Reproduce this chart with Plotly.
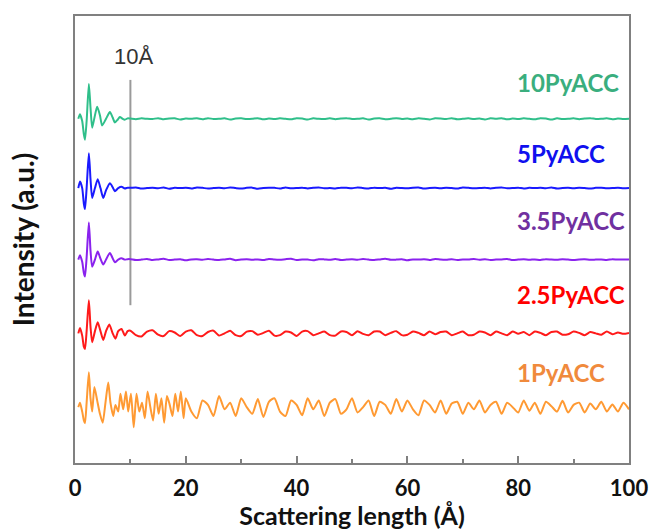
import numpy as np
import plotly.graph_objects as go

# ---------------- data ----------------
series_names = ["1PyACC", "2.5PyACC", "3.5PyACC", "5PyACC", "10PyACC"]
offsets = [1.25, 2.9, 4.55, 6.15, 7.7]
label_y = [2.02, 3.76, 5.43, 6.92, 8.52]
line_colors = ["#ff9a33", "#ff1a1a", "#8a22ee", "#1a1aff", "#2fbf8a"]
label_colors = ["#f08a3c", "#ff0000", "#7030a0", "#1010ee", "#3aae7e"]

# low-r region (explicit x), then tail up to 100 A
x_early_o = [0.6, 0.9, 1.3, 1.6, 1.8, 2.1, 2.5, 2.8, 3.1, 3.5, 4.0, 4.5, 5.0, 5.5, 6.0, 6.4, 6.9, 7.3, 7.8, 8.2,
             8.7, 9.2, 9.6, 10.1, 10.6, 11.1, 11.6, 12.1, 12.6, 13.1, 13.6, 14.1, 14.6, 15.1, 15.6, 16.1, 16.6,
             17.1, 17.6, 18.1, 18.6, 19.1, 19.6]
y_early_o = [0.0, 0.1, -0.1, -0.3, -0.36, 0.1, 0.78, 0.2, -0.1, 0.45, 0.15, -0.15, -0.35, 0.1, 0.55, 0.1, -0.2,
             0.05, -0.1, 0.3, -0.05, 0.35, -0.1, 0.3, -0.45, 0.3, -0.1, 0.1, -0.25, 0.35, 0.0, -0.3, 0.3, -0.15,
             0.2, -0.35, 0.25, 0.05, -0.2, 0.3, -0.1, 0.35, -0.25]
y_tail_o = [0.2, -0.1, -0.25, 0.15, 0.05, -0.2, 0.25, -0.05, 0.1, -0.2, 0.2, 0.0, -0.15, 0.18, -0.22, 0.12, 0.2,
            -0.1, -0.2, 0.15, 0.05, -0.18, 0.2, -0.05, 0.15, -0.2, 0.1, 0.18, -0.15, -0.05, 0.2, -0.12, 0.0,
            0.15, -0.2, 0.12, 0.05, -0.15, 0.18, -0.1, 0.15, -0.05, -0.18, 0.15, 0.05, -0.12, 0.15, -0.15, 0.08,
            0.12, -0.15, 0.1, -0.05, 0.15, -0.12, 0.05, 0.12, -0.15, 0.1, 0.0, -0.12, 0.15, -0.08, 0.1, -0.15,
            0.12, 0.02, -0.1, 0.14, -0.12, 0.05, 0.1, -0.12, 0.08, -0.05, 0.12, -0.1, 0.06, -0.1, 0.1, -0.05]

x_early_r = [0.6, 0.9, 1.3, 1.6, 1.8, 2.1, 2.5, 2.8, 3.1, 3.6, 4.1, 4.6, 5.1, 5.6, 6.2, 6.8, 7.3, 7.8, 8.4, 9.0, 9.5]
y_early_r = [0.0, 0.12, -0.05, -0.3, -0.35, 0.05, 0.74, 0.15, -0.2, 0.05, 0.25, 0.05, -0.15, 0.05, 0.2, 0.0,
             -0.12, 0.05, 0.1, -0.05, 0.05]
y_tail_r = [0.06, -0.04, -0.07, 0.04, 0.07, -0.03, -0.06, 0.05, 0.02, -0.06, 0.04, 0.07, -0.04, -0.06, 0.03, 0.06,
            -0.05, 0.0, 0.06, -0.04, -0.06, 0.04, 0.05, -0.03, 0.01, 0.06, -0.05, -0.04, 0.04, 0.02, -0.06, 0.04,
            0.05, -0.04, 0.0, 0.04, -0.04, -0.05, 0.04, 0.03, -0.04, 0.05, -0.01, -0.04, 0.04, 0.04, -0.04, 0.01,
            0.05, -0.04, -0.03, 0.04, 0.01, -0.04, 0.04, -0.02, 0.03, 0.04, -0.04, 0.0, 0.04, -0.04, -0.03, 0.04,
            0.02, -0.04, 0.04, 0.0, -0.04, 0.04, -0.01, 0.03, -0.04, 0.04, 0.01, -0.04, 0.03, 0.04, -0.03, -0.02,
            0.04, 0.01, -0.04, 0.03, 0.0, -0.03, 0.04, -0.02, 0.02, -0.01, 0.01]

x_early_p = [0.6, 0.9, 1.3, 1.6, 1.8, 2.1, 2.5, 2.8, 3.1, 3.6, 4.1, 4.6, 5.1, 5.6, 6.3, 6.8, 7.2, 7.8, 8.4, 9.0, 9.5]
y_early_p = [0.0, 0.1, -0.05, -0.3, -0.38, 0.05, 0.83, 0.2, -0.16, 0.0, 0.18, 0.02, -0.11, 0.0, 0.15, 0.03,
             -0.06, 0.0, 0.03, 0.0, 0.01]
y_tail_p = [0.01, -0.01, 0.0, 0.015, -0.01, 0.005, 0.02, -0.01, 0.0, 0.01, -0.015, 0.005, 0.01, -0.005, 0.015,
            0.0, -0.01, 0.005, 0.02, -0.015, 0.0, 0.01, -0.005, 0.005, -0.01, 0.015, 0.0, -0.005, 0.01, 0.02,
            -0.01, 0.005, 0.0, -0.015, 0.01, 0.005, -0.005, 0.015, -0.01, 0.0, 0.01, -0.005, 0.015, 0.0, -0.01,
            0.005, 0.02, -0.005, 0.0, 0.01, -0.015, 0.005, 0.0, 0.01, -0.01, 0.015, 0.0, -0.005, 0.01, -0.01,
            0.005, 0.0, 0.015, -0.005, 0.01, -0.01, 0.0, 0.005, 0.015, -0.01, 0.0, 0.01, -0.005, 0.005, -0.01,
            0.01, 0.0, -0.005, 0.01, 0.0, -0.01, 0.005, 0.01, -0.005, 0.0, 0.005, -0.01, 0.01, 0.0, 0.005, 0.0]

x_early_b = [0.6, 0.9, 1.3, 1.6, 1.8, 2.1, 2.5, 2.8, 3.1, 3.6, 4.1, 4.6, 5.1, 5.6, 6.3, 6.8, 7.2, 7.8, 8.4, 9.0, 9.5]
y_early_b = [0.0, 0.15, 0.0, -0.35, -0.47, 0.0, 0.78, 0.2, -0.22, 0.0, 0.2, 0.0, -0.22, -0.05, 0.11, 0.02, -0.07,
             0.0, 0.03, -0.01, 0.01]
y_tail_b = [0.005, 0.015, -0.01, 0.0, 0.01, -0.005, 0.015, -0.015, 0.005, 0.0, 0.01, -0.01, 0.015, 0.005, -0.01,
            0.0, 0.01, -0.005, 0.015, 0.0, -0.01, 0.005, 0.01, -0.015, 0.0, 0.01, 0.005, -0.01, 0.015, -0.005,
            0.0, 0.01, -0.01, 0.005, 0.015, -0.005, 0.0, -0.01, 0.01, 0.005, -0.005, 0.015, 0.0, -0.01, 0.01, 0.0,
            0.005, -0.015, 0.01, 0.0, -0.005, 0.01, 0.015, -0.01, 0.0, 0.005, -0.005, 0.01, 0.0, -0.01, 0.015,
            0.005, -0.005, 0.0, 0.01, -0.01, 0.005, 0.015, -0.005, 0.0, 0.01, -0.01, 0.005, 0.0, 0.01, -0.005,
            0.015, -0.01, 0.0, 0.005, -0.005, 0.01, 0.0, -0.01, 0.005, 0.01, -0.005, 0.0, 0.01, -0.005, 0.0]

x_early_g = [0.6, 0.9, 1.3, 1.6, 1.8, 2.1, 2.5, 2.8, 3.1, 3.5, 4.0, 4.5, 4.9, 5.6, 6.3, 6.8, 7.2, 7.7, 8.1, 8.6,
             9.0, 9.5]
y_early_g = [0.0, 0.1, -0.05, -0.35, -0.47, -0.05, 0.78, 0.25, -0.2, 0.02, 0.27, 0.08, -0.15, 0.0, 0.15, 0.03,
             -0.08, -0.02, 0.04, 0.0, -0.02, 0.01]
y_tail_g = [0.005, -0.01, 0.01, 0.0, -0.005, 0.015, -0.01, 0.005, 0.01, -0.015, 0.005, 0.0, 0.01, -0.01, 0.015,
            -0.005, 0.0, 0.01, -0.015, 0.005, 0.01, -0.005, 0.0, 0.015, -0.01, 0.005, -0.005, 0.01, 0.0, -0.01,
            0.015, 0.005, -0.015, 0.01, 0.0, -0.005, 0.01, -0.01, 0.005, 0.015, -0.005, 0.0, 0.01, -0.015, 0.005,
            0.01, -0.01, 0.0, 0.015, -0.005, 0.005, -0.01, 0.01, 0.0, -0.015, 0.01, 0.005, -0.005, 0.015, -0.01,
            0.0, 0.01, -0.005, 0.005, -0.015, 0.01, 0.0, 0.015, -0.01, 0.005, -0.005, 0.01, 0.0, -0.01, 0.015,
            0.005, -0.015, 0.01, -0.005, 0.0, 0.01, -0.01, 0.005, 0.015, -0.005, 0.0, 0.01, -0.01, 0.005, -0.005,
            0.0]

early_x = [x_early_o, x_early_r, x_early_p, x_early_b, x_early_g]
early_y = [y_early_o, y_early_r, y_early_p, y_early_b, y_early_g]
tail_y = [y_tail_o, y_tail_r, y_tail_p, y_tail_b, y_tail_g]
tail_start = [20.0, 10.0, 10.0, 10.0, 10.0]

marker_line_x = [10, 10]
marker_line_y = [3.53, 8.57]
marker_label = "10Å"

x_ticks = [0, 20, 40, 60, 80, 100]

# ---------------- figure ----------------
fig = go.Figure()

fig.add_trace(go.Scatter(x=marker_line_x, y=marker_line_y, mode="lines",
                         line=dict(color="#9a9a9a", width=2), showlegend=False, hoverinfo="skip"))

for i, name in enumerate(series_names):
    xt = np.linspace(tail_start[i], 100, len(tail_y[i]))
    xs = list(early_x[i]) + list(xt)
    ys = np.array(list(early_y[i]) + list(tail_y[i])) + offsets[i]
    fig.add_trace(go.Scatter(x=xs, y=ys, mode="lines", name=name,
                             line=dict(color=line_colors[i], width=2, shape="spline", smoothing=0.6),
                             showlegend=False))
    fig.add_annotation(x=79.5, y=label_y[i], text=name, showarrow=False,
                       xanchor="left", yanchor="middle",
                       font=dict(family="Lato", size=24, weight="bold", color=label_colors[i]))

fig.add_annotation(x=6.6, y=9.1, text=marker_label, showarrow=False, xanchor="left", yanchor="middle",
                   font=dict(family="Liberation Sans", size=22, color="#333333"))

fig.update_layout(
    width=649, height=530,
    margin=dict(l=75, r=20, t=16, b=67, autoexpand=False),
    plot_bgcolor="white", paper_bgcolor="white",
    xaxis=dict(range=[0, 100], tickvals=x_ticks, showgrid=False, zeroline=False, automargin=False,
               showline=True, linecolor="#808080", linewidth=2, mirror=True,
               ticks="inside", ticklen=7, tickwidth=2, tickcolor="#808080",
               minor=dict(dtick=10, ticks="inside", ticklen=4, tickwidth=2, tickcolor="#808080", showgrid=False),
               tickfont=dict(family="Lato", size=22, weight="bold", color="#111111"),
               ticklabelstandoff=5, ticklabeloverflow="allow",
               title=dict(text="Scattering length (Å)", standoff=16,
                          font=dict(family="Lato", size=25, weight="bold", color="#111111"))),
    yaxis=dict(range=[0, 10], showticklabels=False, ticks="", showgrid=False, zeroline=False, automargin=False,
               showline=True, linecolor="#808080", linewidth=2, mirror=True,
               title=dict(text="Intensity (a.u.)", standoff=30,
                          font=dict(family="Lato", size=28, weight="bold", color="#111111"))),
)

# remove the page's default body margin so the 649x530 figure fills the window exactly
fig.write_html("out.html", config={"displayModeBar": False},
               post_script="document.body.style.margin='0';document.body.style.overflow='hidden';")
